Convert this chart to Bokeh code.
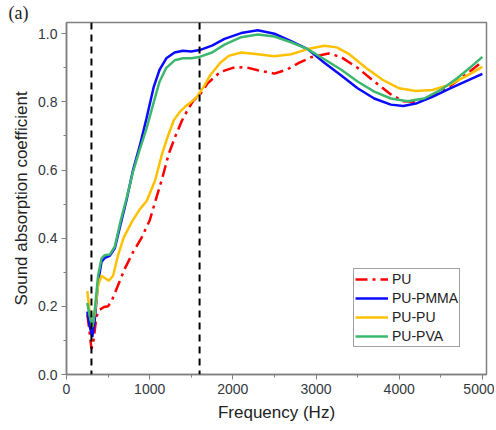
from bokeh.plotting import figure
from bokeh.models import Range1d, Span, Legend, LegendItem, FixedTicker, CustomJSTickFormatter
from bokeh.embed import file_html
from bokeh.resources import INLINE

# PU
f_pu = [250, 270, 300, 320, 360, 400, 450, 500, 550, 610, 700, 800, 900, 1000, 1070, 1150, 1230, 1310, 1390,
        1460, 1530, 1600, 1700, 1850, 2000, 2150, 2300, 2500, 2650, 2800, 2950, 3150, 3300, 3500, 3700, 3900,
        4050, 4200, 4400, 4600, 4800, 5000]
a_pu = [0.175, 0.14, 0.075, 0.09, 0.17, 0.19, 0.198, 0.2, 0.22, 0.256, 0.31, 0.359, 0.40, 0.452, 0.51, 0.575,
        0.648, 0.70, 0.746, 0.778, 0.805, 0.82, 0.855, 0.888, 0.90, 0.902, 0.893, 0.883, 0.895, 0.915, 0.932,
        0.942, 0.932, 0.90, 0.86, 0.822, 0.802, 0.80, 0.818, 0.845, 0.88, 0.918]

# PU-PMMA
f_pmma = [250, 280, 310, 340, 380, 420, 460, 520, 580, 650, 720, 800, 880, 960, 1050, 1120, 1200, 1300, 1400,
          1500, 1600, 1750, 1900, 2100, 2300, 2500, 2700, 2900, 3100, 3300, 3500, 3700, 3900, 4050, 4200, 4400,
          4600, 4800, 5000]
a_pmma = [0.185, 0.14, 0.11, 0.16, 0.27, 0.33, 0.342, 0.348, 0.37, 0.44, 0.51, 0.60, 0.67, 0.75, 0.845, 0.895,
          0.928, 0.945, 0.95, 0.948, 0.952, 0.965, 0.985, 1.002, 1.01, 1.0, 0.978, 0.955, 0.915, 0.878, 0.84,
          0.81, 0.792, 0.788, 0.795, 0.815, 0.838, 0.86, 0.882]

# PU-PU
f_pupu = [250, 280, 310, 340, 380, 420, 460, 510, 560, 620, 690, 790, 886, 966, 1066, 1150, 1220, 1290, 1360,
          1430, 1500, 1570, 1650, 1730, 1850, 1950, 2100, 2300, 2500, 2700, 2900, 3100, 3250, 3400, 3600, 3800,
          4000, 4200, 4400, 4600, 4800, 5000]
a_pupu = [0.245, 0.18, 0.14, 0.18, 0.26, 0.29, 0.283, 0.275, 0.29, 0.35, 0.403, 0.45, 0.486, 0.51, 0.57, 0.648,
          0.70, 0.746, 0.77, 0.787, 0.80, 0.815, 0.845, 0.879, 0.915, 0.935, 0.945, 0.94, 0.934, 0.94, 0.955,
          0.965, 0.96, 0.94, 0.90, 0.865, 0.84, 0.832, 0.835, 0.85, 0.875, 0.903]

# PU-PVA
f_pva = [250, 280, 310, 340, 380, 420, 460, 520, 580, 650, 720, 800, 880, 960, 1050, 1120, 1200, 1300, 1400,
         1500, 1600, 1750, 1900, 2100, 2300, 2500, 2700, 2900, 3100, 3300, 3500, 3700, 3900, 4100, 4300, 4500,
         4700, 4850, 5000]
a_pva = [0.21, 0.17, 0.14, 0.19, 0.29, 0.34, 0.35, 0.352, 0.375, 0.45, 0.515, 0.595, 0.66, 0.72, 0.80, 0.86,
         0.90, 0.922, 0.928, 0.928, 0.932, 0.945, 0.968, 0.99, 0.998, 0.992, 0.975, 0.955, 0.925, 0.895, 0.86,
         0.83, 0.81, 0.802, 0.81, 0.835, 0.87, 0.90, 0.932]

vlines = [300, 1600]
x_ticks = [0, 1000, 2000, 3000, 4000, 5000]
x_minor = [500, 1500, 2500, 3500, 4500]
y_ticks = [0.0, 0.2, 0.4, 0.6, 0.8, 1.0]
y_minor = [0.1, 0.3, 0.5, 0.7, 0.9]

FONT = "Liberation Sans"
TXT = "#333840"
GRAY = "#808080"

p = figure(frame_width=420, frame_height=352, output_backend="svg", toolbar_location=None,
           x_range=Range1d(0, 5050), y_range=Range1d(0, 1.033),
           min_border_left=66, min_border_right=8, min_border_top=0, min_border_bottom=40,
           title="(a)")
p.title.align = "left"
p.title.offset = -58
p.title.standoff = 0
p.title.text_font = "Liberation Serif"
p.title.text_font_size = "18px"
p.title.text_font_style = "normal"
p.title.text_color = "#222222"

p.grid.visible = False
p.outline_line_color = GRAY
p.outline_line_width = 1.5
p.background_fill_color = "white"
p.border_fill_color = "white"

for s in vlines:
    p.add_layout(Span(location=s, dimension="height", line_color="black", line_width=2, line_dash="7 5"))

r_pu = p.line(f_pu, a_pu, line_color="#FF0000", line_width=2.5, line_dash="12 5 3 5")
r_pmma = p.line(f_pmma, a_pmma, line_color="#0A0AFF", line_width=2.5)
r_pupu = p.line(f_pupu, a_pupu, line_color="#FFC000", line_width=2.5)
r_pva = p.line(f_pva, a_pva, line_color="#3CB86E", line_width=2.5)

for ax in (p.xaxis[0], p.yaxis[0]):
    ax.axis_line_color = GRAY
    ax.axis_line_width = 1.5
    ax.major_tick_line_color = GRAY
    ax.minor_tick_line_color = GRAY
    ax.major_tick_out = 5
    ax.major_tick_in = 0
    ax.minor_tick_out = 3
    ax.minor_tick_in = 0
    ax.major_label_text_font = FONT
    ax.major_label_text_font_size = "14px"
    ax.major_label_text_color = TXT
    ax.axis_label_text_font = FONT
    ax.axis_label_text_font_size = "17px"
    ax.axis_label_text_font_style = "normal"
    ax.axis_label_text_color = "#222222"

p.xaxis.ticker = FixedTicker(ticks=x_ticks, minor_ticks=x_minor)
p.yaxis.ticker = FixedTicker(ticks=y_ticks, minor_ticks=y_minor)
p.yaxis.formatter = CustomJSTickFormatter(code="return tick.toFixed(1);")
p.xaxis.axis_label = "Frequency (Hz)"
p.yaxis.axis_label = "Sound absorption coefficient"
p.xaxis.major_label_standoff = 4
p.yaxis.major_label_standoff = 4
p.xaxis.axis_label_standoff = 6
p.yaxis.axis_label_standoff = 4

legend = Legend(items=[LegendItem(label="PU", renderers=[r_pu]),
                       LegendItem(label="PU-PMMA", renderers=[r_pmma]),
                       LegendItem(label="PU-PU", renderers=[r_pupu]),
                       LegendItem(label="PU-PVA", renderers=[r_pva])],
                location=(287, 27))
legend.border_line_color = "#444444"
legend.border_line_width = 1.5
legend.label_text_font = FONT
legend.label_text_font_size = "14px"
legend.label_text_color = "#222222"
legend.glyph_width = 33
legend.glyph_height = 18
legend.label_height = 18
legend.spacing = 1
legend.padding = 1
legend.margin = 0
legend.label_standoff = 4
legend.background_fill_alpha = 1
p.add_layout(legend)

open("out.html", "w").write(file_html(p, INLINE))
